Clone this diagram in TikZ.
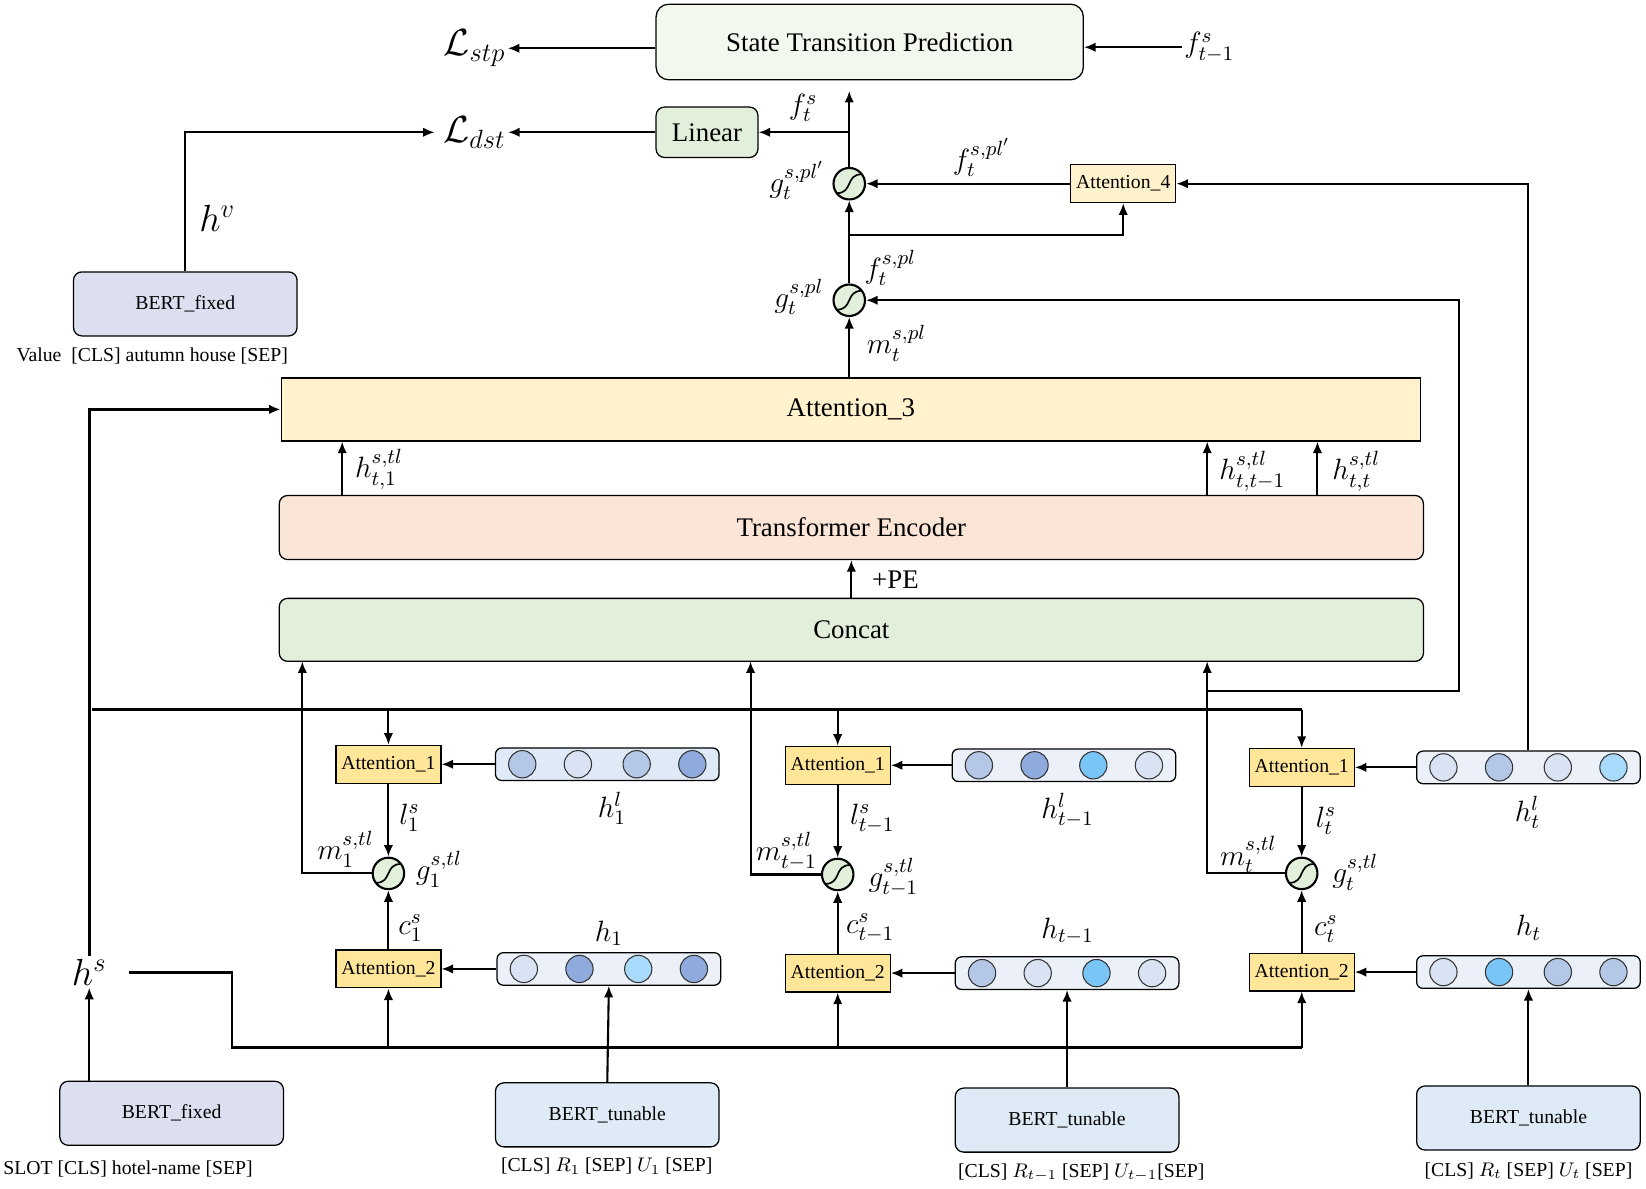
\RequirePackage{fix-cm}
\documentclass[tikz,border=0pt]{standalone}
\usepackage{amsmath}
\usepackage{fontspec}
\setmainfont{Liberation Serif}
\usepackage{tikz}
\usetikzlibrary{arrows.meta}

\definecolor{stpfill}{HTML}{F3F8EF}
\definecolor{greenfill}{HTML}{E2EFDA}
\definecolor{fixedfill}{HTML}{DCDFEF}
\definecolor{lightyellow}{HTML}{FFF2CC}
\definecolor{attyellow}{HTML}{FFE699}
\definecolor{transfill}{HTML}{FBE5D6}
\definecolor{tunefill}{HTML}{DEEBF7}
\definecolor{vecA}{HTML}{DEEBF7}
\definecolor{vecB}{HTML}{EBF0F9}
\definecolor{cA}{HTML}{DAE3F3}
\definecolor{cB}{HTML}{B4C7E7}
\definecolor{cC}{HTML}{8FAADC}
\definecolor{cD}{HTML}{79C5F7}
\definecolor{cE}{HTML}{A8DAFB}

\tikzset{
    box/.style={draw, line width=0.6pt, inner sep=0pt, align=center},
    roundbox/.style={box, rounded corners=4pt},
    bigtext/.style={font=\fontsize{12.8}{15}\selectfont},
    smalltext/.style={font=\fontsize{9.4}{11}\selectfont},
    lab/.style={font=\fontsize{14}{16}\selectfont, inner sep=1pt},
    biglab/.style={font=\fontsize{18}{20}\selectfont, inner sep=1pt},
    conn/.style={line width=1pt, -{Latex[length=5.5pt,width=4.5pt]}},
    spine/.style={line width=1.4pt},
    dot/.style={line width=0.5pt, draw=black!80},
    gate/.style={circle, draw, line width=1pt, fill=greenfill,
        minimum size=15pt, inner sep=0pt,
        path picture={\draw[line width=0.8pt]
            ([shift={(-6pt,-4.5pt)}]path picture bounding box.center)
            .. controls +(8pt,0pt) and +(-8pt,0pt) ..
            ([shift={(6pt,4.5pt)}]path picture bounding box.center);}}
}

\begin{document}
\begin{tikzpicture}[x=0.5pt,y=-0.5pt]
    \useasboundingbox (0,0) rectangle (1568,1132);

    % Prediction heads
    \node [roundbox, rounded corners=6pt, fill=stpfill,
        minimum width=203.5pt, minimum height=36pt,
        bigtext] (stp) at (828.5,40) {State Transition Prediction};
    \node [roundbox, fill=greenfill,
        minimum width=48.5pt, minimum height=24pt,
        bigtext] (linear) at (673.5,126) {Linear};
    \node [biglab] (Lstp) at (452,46) {$\mathcal{L}_{stp}$};
    \node [biglab] (Ldst) at (452,126) {$\mathcal{L}_{dst}$};
    \node [lab] (fprev) at (1152,45) {$f_{t-1}^{s}$};
    \draw [conn] (stp.west |- Lstp) -- (Lstp.east);
    \draw [conn] (fprev.west) -- (stp.east |- fprev.west);
    \draw [conn] (linear.west) -- (Ldst.east |- linear.west);

    % Value encoder
    \node [roundbox, fill=fixedfill,
        minimum width=106.5pt, minimum height=30.5pt,
        smalltext] (bertv) at (176.5,289.5) {BERT\_fixed};
    \node [smalltext] (valtxt) at (145,339) {Value\ \ [CLS] autumn house [SEP]};
    \node [biglab] (hv) at (207,208) {$h^{v}$};
    \draw [conn] (bertv.north) |- ([xshift=-3pt]Ldst.west);

    % Gates on the main path
    \node [gate] (gplp) at (809,175) {};
    \node [gate] (gpl) at (809,286) {};
    \node [box, fill=lightyellow,
        minimum width=50pt, minimum height=18pt,
        smalltext] (att4) at (1070,175) {Attention\_4};
    \node [lab] (fts) at (765,103) {$f_{t}^{s}$};
    \node [lab] (gplplab) at (759,172) {$g_{t}^{s,pl'}$};
    \node [lab] (fplplab) at (935,150) {$f_{t}^{s,pl'}$};
    \node [lab] (fpllab) at (848,255) {$f_{t}^{s,pl}$};
    \node [lab] (gpllab) at (761,283) {$g_{t}^{s,pl}$};
    \node [lab] (mpllab) at (854,327) {$m_{t}^{s,pl}$};
    \coordinate (split) at (809,224);
    \draw [conn, shorten >=5pt] (gplp.north) -- (gplp.north |- stp.south);
    \draw [conn] (gplp.north |- linear.east) -- (linear.east);
    \draw [conn] (att4.west) -- (gplp.east);
    \draw [conn] (gpl.north) -- (gplp.south);
    \draw [conn] (split) -| (att4.south);

    % Attention_3, Transformer Encoder, Concat
    \node [box, fill=lightyellow,
        minimum width=542.5pt, minimum height=30pt,
        bigtext] (att3) at (810.5,390) {Attention\_3};
    \node [roundbox, fill=transfill,
        minimum width=545pt, minimum height=30.5pt,
        bigtext] (trans) at (811,502.5) {Transformer Encoder};
    \node [roundbox, fill=greenfill,
        minimum width=545pt, minimum height=30pt,
        bigtext] (concat) at (811,600) {Concat};
    \node [bigtext] (pe) at (853,552) {+PE};
    \draw [conn] (att3.north -| gpl) -- (gpl.south);
    \draw [conn] (concat.north) -- (trans.south);
    \coordinate (ua) at (326,0);
    \coordinate (ub) at (1150,0);
    \coordinate (uc) at (1255,0);
    \draw [conn] (trans.north -| ua) -- (att3.south -| ua);
    \draw [conn] (trans.north -| ub) -- (att3.south -| ub);
    \draw [conn] (trans.north -| uc) -- (att3.south -| uc);
    \node [lab] (hta) at (361,447) {$h_{t,1}^{s,tl}$};
    \node [lab] (htb) at (1193,449) {$h_{t,t-1}^{s,tl}$};
    \node [lab] (htc) at (1292,449) {$h_{t,t}^{s,tl}$};

    % Turn 1
    \node [box, fill=attyellow, minimum width=50pt, minimum height=18pt,
        smalltext] (att1a) at (370,728) {Attention\_1};
    \node [gate] (ga) at (370,832) {};
    \node [box, fill=attyellow, minimum width=50pt, minimum height=18pt,
        smalltext] (att2a) at (370,923) {Attention\_2};
    \node [roundbox, rounded corners=3pt, fill=vecA,
        minimum width=106.5pt, minimum height=15.5pt] (hla) at (578.5,728) {};
    \node [roundbox, rounded corners=3pt, fill=vecB,
        minimum width=106.5pt, minimum height=15.5pt] (hva) at (580,923) {};
    \filldraw [dot, fill=cB] ([xshift=-40.5pt]hla.center) circle [radius=6.5pt];
    \filldraw [dot, fill=cA] ([xshift=-14pt]hla.center) circle [radius=6.5pt];
    \filldraw [dot, fill=cB] ([xshift=14pt]hla.center) circle [radius=6.5pt];
    \filldraw [dot, fill=cC] ([xshift=40.5pt]hla.center) circle [radius=6.5pt];
    \filldraw [dot, fill=cA] ([xshift=-40.5pt]hva.center) circle [radius=6.5pt];
    \filldraw [dot, fill=cC] ([xshift=-14pt]hva.center) circle [radius=6.5pt];
    \filldraw [dot, fill=cE] ([xshift=14pt]hva.center) circle [radius=6.5pt];
    \filldraw [dot, fill=cC] ([xshift=40.5pt]hva.center) circle [radius=6.5pt];
    \node [roundbox, fill=tunefill, minimum width=106.5pt, minimum height=30.5pt,
        smalltext] (berta) at (578.5,1062) {BERT\_tunable};
    \node [smalltext] (capa) at (578,1111) {[CLS] $R_1$ [SEP] $U_1$ [SEP]};
    \node [lab] (la) at (390,779) {$l_{1}^{s}$};
    \node [lab] (mla) at (329,809) {$m_{1}^{s,tl}$};
    \node [lab] (gla) at (418,828) {$g_{1}^{s,tl}$};
    \node [lab] (cla) at (391,884) {$c_{1}^{s}$};
    \node [lab] (hlla) at (583,770) {$h_{1}^{l}$};
    \node [lab] (hvla) at (580,889) {$h_{1}$};
    \coordinate (ma) at (288,630);
    \draw [conn] (att1a.south) -- (ga.north);
    \draw [conn] (att2a.north) -- (ga.south);
    \draw [conn] (ga.west) -| (ma);
    \draw [conn] (hla.west) -- (att1a.east);
    \draw [conn] (hva.west) -- (att2a.east);
    \draw [conn] (berta.north) -- (hva.south);

    % Turn t-1
    \node [box, fill=attyellow, minimum width=50pt, minimum height=18pt,
        smalltext] (att1b) at (798,729) {Attention\_1};
    \node [gate] (gb) at (798,833) {};
    \node [box, fill=attyellow, minimum width=50pt, minimum height=18pt,
        smalltext] (att2b) at (798,927) {Attention\_2};
    \node [roundbox, rounded corners=3pt, fill=vecB,
        minimum width=106.5pt, minimum height=15.5pt] (hlb) at (1013.5,729) {};
    \node [roundbox, rounded corners=3pt, fill=vecB,
        minimum width=106.5pt, minimum height=15.5pt] (hvb) at (1016.5,927) {};
    \filldraw [dot, fill=cB] ([xshift=-40.5pt]hlb.center) circle [radius=6.5pt];
    \filldraw [dot, fill=cC] ([xshift=-14pt]hlb.center) circle [radius=6.5pt];
    \filldraw [dot, fill=cD] ([xshift=14pt]hlb.center) circle [radius=6.5pt];
    \filldraw [dot, fill=cA] ([xshift=40.5pt]hlb.center) circle [radius=6.5pt];
    \filldraw [dot, fill=cB] ([xshift=-40.5pt]hvb.center) circle [radius=6.5pt];
    \filldraw [dot, fill=cA] ([xshift=-14pt]hvb.center) circle [radius=6.5pt];
    \filldraw [dot, fill=cD] ([xshift=14pt]hvb.center) circle [radius=6.5pt];
    \filldraw [dot, fill=cA] ([xshift=40.5pt]hvb.center) circle [radius=6.5pt];
    \node [roundbox, fill=tunefill, minimum width=106.5pt, minimum height=30.5pt,
        smalltext] (bertb) at (1016.5,1067) {BERT\_tunable};
    \node [smalltext] (capb) at (1030,1117) {[CLS] $R_{t-1}$ [SEP] $U_{t-1}$[SEP]};
    \node [lab] (lb) at (831,780) {$l_{t-1}^{s}$};
    \node [lab] (mlb) at (749,811) {$m_{t-1}^{s,tl}$};
    \node [lab] (glb) at (851,836) {$g_{t-1}^{s,tl}$};
    \node [lab] (clb) at (829,884) {$c_{t-1}^{s}$};
    \node [lab] (hllb) at (1017,772) {$h_{t-1}^{l}$};
    \node [lab] (hvlb) at (1017,887) {$h_{t-1}$};
    \coordinate (mb) at (715,630);
    \draw [conn] (att1b.south) -- (gb.north);
    \draw [conn] (att2b.north) -- (gb.south);
    \draw [conn] (gb.west) -| (mb);
    \draw [conn] (hlb.west) -- (att1b.east);
    \draw [conn] (hvb.west) -- (att2b.east);
    \draw [conn] (bertb.north) -- (hvb.south);

    % Turn t
    \node [box, fill=attyellow, minimum width=50pt, minimum height=18pt,
        smalltext] (att1c) at (1240,731) {Attention\_1};
    \node [gate] (gc) at (1240,832) {};
    \node [box, fill=attyellow, minimum width=50pt, minimum height=18pt,
        smalltext] (att2c) at (1240,926) {Attention\_2};
    \node [roundbox, rounded corners=3pt, fill=vecB,
        minimum width=106.5pt, minimum height=15.5pt] (hlc) at (1456,731) {};
    \node [roundbox, rounded corners=3pt, fill=vecB,
        minimum width=106.5pt, minimum height=15.5pt] (hvc) at (1456,926) {};
    \filldraw [dot, fill=cA] ([xshift=-40.5pt]hlc.center) circle [radius=6.5pt];
    \filldraw [dot, fill=cB] ([xshift=-14pt]hlc.center) circle [radius=6.5pt];
    \filldraw [dot, fill=cA] ([xshift=14pt]hlc.center) circle [radius=6.5pt];
    \filldraw [dot, fill=cE] ([xshift=40.5pt]hlc.center) circle [radius=6.5pt];
    \filldraw [dot, fill=cA] ([xshift=-40.5pt]hvc.center) circle [radius=6.5pt];
    \filldraw [dot, fill=cD] ([xshift=-14pt]hvc.center) circle [radius=6.5pt];
    \filldraw [dot, fill=cB] ([xshift=14pt]hvc.center) circle [radius=6.5pt];
    \filldraw [dot, fill=cB] ([xshift=40.5pt]hvc.center) circle [radius=6.5pt];
    \node [roundbox, fill=tunefill, minimum width=106.5pt, minimum height=30.5pt,
        smalltext] (bertc) at (1456,1065) {BERT\_tunable};
    \node [smalltext] (capc) at (1456,1115) {[CLS] $R_t$ [SEP] $U_t$ [SEP]};
    \node [lab] (lc) at (1263,782) {$l_{t}^{s}$};
    \node [lab] (mlc) at (1189,814) {$m_{t}^{s,tl}$};
    \node [lab] (glc) at (1291,831) {$g_{t}^{s,tl}$};
    \node [lab] (clc) at (1263,885) {$c_{t}^{s}$};
    \node [lab] (hllc) at (1455,774) {$h_{t}^{l}$};
    \node [lab] (hvlc) at (1456,884) {$h_{t}$};
    \coordinate (mc) at (1150,630);
    \draw [conn] (att1c.south) -- (gc.north);
    \draw [conn] (att2c.north) -- (gc.south);
    \draw [conn] (gc.west) -| (mc);
    \draw [conn] (hlc.west) -- (att1c.east);
    \draw [conn] (hvc.west) -- (att2c.east);
    \draw [conn] (bertc.north) -- (hvc.south);

    % Feedback to the gates
    \coordinate (loopA) at (1150,658);
    \coordinate (loopB) at (1390,286);
    \draw [conn] (loopA) -| (loopB) -- (gpl.east);
    \draw [conn] (hlc.north) |- (att4.east);

    % Slot encoder and slot lines
    \node [roundbox, fill=fixedfill, minimum width=106.5pt, minimum height=30.5pt,
        smalltext] (bertslot) at (163.5,1060.5) {BERT\_fixed};
    \node [smalltext] (slottxt) at (122,1114) {SLOT [CLS] hotel-name [SEP]};
    \node [biglab] (hs) at (85,926) {$h^{s}$};
    \coordinate (hsT) at (88,676);
    \coordinate (hsE) at (123,926);
    \coordinate (hsB) at (221,998);
    \draw [conn] (hs |- bertslot.north) -- (hs.south);
    \draw [spine, -{Latex[length=5.5pt,width=4.5pt]}] (hs.north) |- (att3.west);
    \draw [spine] (hsT) -- (att1c.north |- hsT);
    \draw [conn] (att1a.north |- hsT) -- (att1a.north);
    \draw [conn] (att1b.north |- hsT) -- (att1b.north);
    \draw [conn] (att1c.north |- hsT) -- (att1c.north);
    \draw [spine] (hsE) -| (hsB) -- (att2c.south |- hsB);
    \draw [conn] (att2a.south |- hsB) -- (att2a.south);
    \draw [conn] (att2b.south |- hsB) -- (att2b.south);
    \draw [conn] (att2c.south |- hsB) -- (att2c.south);
\end{tikzpicture}
\end{document}
